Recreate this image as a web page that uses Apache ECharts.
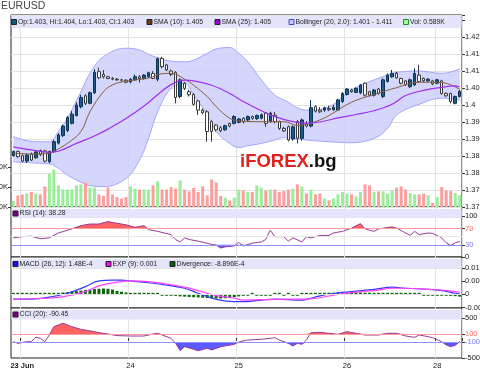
<!DOCTYPE html>
<html><head><meta charset="utf-8">
<script src="https://cdn.jsdelivr.net/npm/echarts@6/dist/echarts.min.js"></script>
<style>html,body{margin:0;padding:0;background:#fff}#c{width:480px;height:370px}</style>
</head><body><div id="c"></div>
<script>
// ---------------- DATA ----------------
const dayNames = ['22 Jun', '23 Jun', '24 Jun', '25 Jun', '26 Jun', '28 Jun'];
const dayFirstHour = [22, 0, 0, 0, 0, 0];
const dayHourCount = [2, 24, 24, 24, 20, 6];
const dayTickLabels = { '23 Jun': '23 Jun', '24 Jun': '24', '25 Jun': '25', '26 Jun': '26', '28 Jun': '28' };

const open = [1.3851,1.3863,1.3851,1.3835,1.3855,1.3845,1.3866,1.3865,1.3833,1.3863,
  1.3888,1.3910,1.3925,1.3946,1.3969,1.3995,1.4027,1.4005,1.4036,1.4098,
  1.4090,1.4083,1.4078,1.4076,1.4074,1.4073,1.4068,1.4074,1.4083,1.4078,
  1.4083,1.4093,1.4076,1.4137,1.4118,1.4100,1.4096,1.4025,1.4064,1.4039,
  1.4031,1.4012,1.3985,1.3980,1.3951,1.3941,1.3933,1.3927,1.3946,1.3946,
  1.3949,1.3961,1.3956,1.3966,1.3960,1.3961,1.3976,1.3951,1.3970,1.3951,
  1.3931,1.3936,1.3900,1.3951,1.3902,1.3946,1.3938,1.3995,1.3985,1.3985,
  1.3990,1.3986,1.3985,1.4010,1.4031,1.4044,1.4037,1.4036,1.4064,1.4039,
  1.4029,1.4047,1.4025,1.4069,1.4083,1.4093,1.4078,1.4071,1.4054,1.4059,
  1.4088,1.4078,1.4071,1.4071,1.4064,1.4071,1.4034,1.4034,1.4005,1.4025];
const high = [1.3866,1.3866,1.3855,1.3856,1.3860,1.3866,1.3869,1.3868,1.3866,1.3897,
  1.3917,1.3942,1.3968,1.3982,1.4008,1.4030,1.4032,1.4040,1.4105,1.4110,
  1.4103,1.4086,1.4082,1.4079,1.4077,1.4076,1.4079,1.4090,1.4088,1.4091,
  1.4098,1.4100,1.4140,1.4142,1.4120,1.4104,1.4100,1.4078,1.4068,1.4045,
  1.4035,1.4015,1.3990,1.3985,1.3955,1.3944,1.3938,1.3942,1.3948,1.3970,
  1.3962,1.3964,1.3969,1.3969,1.3972,1.3975,1.3979,1.3980,1.3980,1.3954,
  1.3936,1.3940,1.3940,1.3956,1.3960,1.3953,1.4015,1.3999,1.3994,1.3995,
  1.3998,1.4000,1.4018,1.4038,1.4050,1.4048,1.4052,1.4062,1.4066,1.4042,
  1.4047,1.4050,1.4078,1.4093,1.4103,1.4098,1.4080,1.4073,1.4078,1.4108,
  1.4118,1.4081,1.4079,1.4074,1.4077,1.4074,1.4037,1.4036,1.4028,1.4044];
const low = [1.3848,1.3845,1.3831,1.3830,1.3835,1.3842,1.3850,1.3831,1.3829,1.3860,
  1.3884,1.3906,1.3920,1.3943,1.3966,1.3990,1.4000,1.4002,1.4032,1.4076,
  1.4078,1.4076,1.4073,1.4071,1.4069,1.4064,1.4064,1.4071,1.4066,1.4075,
  1.4080,1.4076,1.4070,1.4108,1.4100,1.4085,1.4005,1.4020,1.4044,1.4025,
  1.3998,1.3971,1.3973,1.3892,1.3892,1.3922,1.3920,1.3924,1.3934,1.3943,
  1.3946,1.3946,1.3953,1.3957,1.3956,1.3958,1.3936,1.3948,1.3946,1.3927,
  1.3920,1.3893,1.3895,1.3887,1.3895,1.3934,1.3934,1.3978,1.3976,1.3980,
  1.3982,1.3983,1.3982,1.4006,1.4028,1.4036,1.4035,1.4032,1.4025,1.4025,
  1.4025,1.4030,1.4020,1.4066,1.4080,1.4077,1.4060,1.4056,1.4050,1.4056,
  1.4066,1.4068,1.4068,1.4058,1.4061,1.4030,1.4024,1.4005,1.4002,1.4022];
const close = [1.3863,1.3848,1.3835,1.3853,1.3838,1.3862,1.3855,1.3835,1.3863,1.3892,
  1.3912,1.3938,1.3963,1.3973,1.4000,1.4022,1.4005,1.4036,1.4096,1.4080,
  1.4083,1.4078,1.4076,1.4074,1.4073,1.4067,1.4076,1.4083,1.4078,1.4088,
  1.4095,1.4078,1.4136,1.4113,1.4103,1.4090,1.4022,1.4074,1.4049,1.4030,
  1.4002,1.3985,1.3977,1.3922,1.3922,1.3927,1.3924,1.3939,1.3938,1.3966,
  1.3959,1.3951,1.3966,1.3960,1.3969,1.3971,1.3946,1.3976,1.3951,1.3931,
  1.3924,1.3897,1.3936,1.3902,1.3956,1.3938,1.3992,1.3982,1.3980,1.3992,
  1.3986,1.3993,1.4015,1.4034,1.4047,1.4039,1.4049,1.4059,1.4029,1.4029,
  1.4044,1.4034,1.4074,1.4088,1.4093,1.4080,1.4064,1.4059,1.4074,1.4093,
  1.4069,1.4071,1.4076,1.4062,1.4074,1.4034,1.4027,1.4010,1.4025,1.4040];
// volume in thousands
const volume = [0.30,0.58,0.63,0.67,0.75,0.67,0.63,1.03,1.67,1.87,
  1.08,0.87,0.87,0.87,1.08,1.13,1.22,0.97,0.97,0.63,
  0.55,0.97,0.63,0.50,0.42,0.50,1.03,0.92,0.87,0.87,
  0.87,1.08,1.28,0.87,0.87,1.00,0.92,1.33,0.87,0.78,
  0.95,0.75,1.03,0.58,1.38,1.22,0.55,0.47,0.33,0.47,
  0.87,0.83,0.75,0.75,1.08,0.97,0.83,0.87,0.87,0.75,
  0.80,0.87,0.92,1.13,1.03,0.67,0.87,0.63,0.67,0.42,
  0.33,0.42,0.63,0.75,0.67,0.63,0.53,0.75,1.13,1.08,
  0.75,0.78,0.78,0.67,0.83,0.97,1.03,0.87,0.70,0.63,
  0.63,0.67,0.58,0.20,0.50,1.00,0.83,0.80,0.70,0.59];

// [candle index, value]
const sma10 = [[0,1.3858],[5,1.3856],[8,1.3858],[10,1.3871],[12,1.3887],[15,1.3922],[17,1.3980],[20,1.4039],[22,1.4059],[25,1.4070],[30,1.4079],[33,1.4092],[35,1.4093],[38,1.4076],[40,1.4058],[43,1.4025],[45,1.3995],[48,1.3961],[50,1.3953],[55,1.3951],[60,1.3951],[63,1.3940],[65,1.3943],[68,1.3956],[70,1.3969],[75,1.4008],[80,1.4031],[85,1.4051],[90,1.4067],[95,1.4066],[99,1.4046]];
const sma25 = [[0,1.3877],[4,1.3868],[8,1.3861],[10,1.3864],[14,1.3887],[18,1.3909],[21,1.3929],[25,1.3960],[29,1.3997],[32,1.4030],[35,1.4060],[38,1.4073],[40,1.4071],[44,1.4058],[48,1.4034],[51,1.4010],[55,1.3983],[58,1.3966],[62,1.3951],[65,1.3946],[68,1.3950],[72,1.3962],[76,1.3972],[80,1.3983],[84,1.4002],[87,1.4028],[91,1.4043],[95,1.4052],[98,1.4056],[99,1.4053]];
const bollUpper = [[0,1.3907],[5,1.3892],[8,1.3892],[10,1.3922],[12,1.3961],[15,1.4039],[17,1.4093],[20,1.4142],[25,1.4167],[28,1.4162],[30,1.4149],[32,1.4139],[35,1.4129],[38,1.4127],[40,1.4132],[43,1.4152],[45,1.4165],[48,1.4169],[50,1.4152],[52,1.4127],[55,1.4074],[58,1.4029],[60,1.4015],[65,1.3985],[70,1.3995],[75,1.4044],[80,1.4074],[83,1.4088],[85,1.4096],[90,1.4100],[95,1.4093],[99,1.4106]];
const bollLower = [[0,1.3833],[5,1.3829],[8,1.3827],[10,1.3814],[12,1.3794],[15,1.3773],[17,1.3763],[20,1.3760],[25,1.3784],[28,1.3838],[30,1.3902],[32,1.3980],[35,1.4049],[38,1.4064],[40,1.4029],[43,1.3971],[45,1.3922],[48,1.3887],[50,1.3875],[52,1.3880],[55,1.3887],[58,1.3897],[60,1.3904],[65,1.3897],[70,1.3892],[75,1.3889],[80,1.3902],[83,1.3931],[85,1.3971],[90,1.4002],[95,1.4020],[99,1.4014]];
const rsi14 = [[0,47],[2,50],[4,51],[6,45],[8,47],[10,59],[13,69],[15,77],[17,81],[19,81],[21,87],[23,83],[25,79],[27,73],[29,77],[30,67],[32,63],[35,55],[36,43],[37,37],[38,47],[39,43],[41,39],[44,31],[45,29],[46,22],[47,25],[49,27],[50,36],[51,27],[53,34],[55,37],[56,43],[57,66],[58,50],[60,50],[61,39],[62,47],[64,37],[65,50],[66,47],[68,53],[70,53],[71,59],[73,63],[74,67],[75,71],[77,82],[78,69],[80,63],[81,69],[84,74],[85,71],[87,59],[88,53],[89,63],[90,55],[92,59],[93,58],[95,47],[96,35],[97,28],[98,35],[99,38.28]];
const macdLine = [[0,-0.0018],[4,-0.0018],[8,-0.0011],[12,0.0004],[16,0.0029],[19,0.0051],[22,0.0054],[24,0.0054],[26,0.0051],[30,0.0044],[34,0.0035],[38,0.0023],[41,0.0004],[45,-0.0019],[49,-0.0028],[51,-0.0028],[55,-0.0022],[58,-0.0018],[64,-0.0022],[65,-0.0019],[68,-0.0006],[72,0.0006],[75,0.0010],[80,0.0019],[84,0.0027],[87,0.0023],[92,0.0019],[95,0.0014],[98,0.0004],[99,0.00015]];
const macdSignal = [[0,-0.0018],[8,-0.0015],[12,-0.0006],[16,0.0010],[19,0.0032],[23,0.0046],[26,0.0051],[30,0.0048],[34,0.0039],[38,0.0027],[41,0.0014],[45,-0.0005],[49,-0.0015],[51,-0.0022],[58,-0.0019],[65,-0.0018],[68,-0.0013],[72,0],[77,0.0010],[81,0.0016],[84,0.0023],[87,0.0023],[92,0.0019],[95,0.0016],[98,0.0010],[99,0.0009]];
const macdDivergence = [0.0002,0.0002,0.0002,0.0002,0.0002,0.0002,0.0002,0.0002,0.0003,0.0004,
  0.0005,0.0007,0.0008,0.0010,0.0012,0.0014,0.0016,0.0018,0.0020,0.0021,
  0.0022,0.0021,0.0018,0.0013,0.0010,0.0007,0.0004,0.0002,0,0,
  0.0002,0,0,-0.0002,-0.0002,-0.0003,-0.0006,-0.0008,-0.0009,-0.0010,
  -0.0011,-0.0012,-0.0013,-0.0014,-0.0015,-0.0016,-0.0016,-0.0015,-0.0013,-0.0011,
  -0.0008,-0.0006,-0.0005,0,-0.0002,-0.0002,-0.0002,-0.0002,0,0,
  -0.0002,0,-0.0002,-0.0002,0,0.0002,0.0003,0.0003,0.0004,0.0005,
  0.0006,0.0006,0.0007,0.0008,0.0008,0.0008,0.0007,0.0007,0.0006,0.0006,
  0.0005,0.0005,0.0004,0.0004,0.0003,0.0003,0.0002,0,0.0002,0,
  0,-0.0002,-0.0002,-0.0003,-0.0003,-0.0004,-0.0005,-0.0006,-0.0007,-0.0009];
const cci20 = [[0,-92],[1,-133],[3,-92],[4,-92],[5,20],[6,-8],[7,-92],[8,75],[9,283],[11,367],[13,283],[15,217],[18,158],[19,133],[21,100],[23,60],[26,50],[29,50],[31,100],[32,117],[33,75],[35,-8],[36,-133],[37,-317],[38,-217],[40,-283],[41,-317],[43,-258],[44,-300],[46,-217],[49,-158],[50,-100],[52,-50],[55,-33],[57,-8],[58,8],[59,-50],[61,-133],[62,-200],[63,-133],[64,-158],[65,-50],[66,133],[68,142],[70,117],[72,92],[74,158],[76,117],[78,75],[81,75],[83,117],[85,117],[87,50],[89,17],[90,75],[92,33],[93,8],[95,-92],[96,-175],[97,-217],[98,-180],[99,-90.45]];
const rsiLevels = [70, 30];
const cciLevels = [100, -100];
const chartTitle = 'EURUSD';
const legendTexts = {
  price: 'Op:1.403, Hi:1.404, Lo:1.403, Cl:1.403',
  sma10: 'SMA (10): 1.405',
  sma25: 'SMA (25): 1.405',
  boll: 'Bollinger (20, 2.0): 1.401 - 1.411',
  vol: 'Vol: 0.589K',
  rsi: 'RSI (14): 38.28',
  macd: 'MACD (26, 12): 1.48E-4',
  exp: 'EXP (9): 0.001',
  div: 'Divergence: -8.896E-4',
  cci: 'CCI (20): -90.45'
};

// ---------------- BUILD ----------------
const categories = [];
dayNames.forEach((d, k) => {
  for (let h = 0; h < dayHourCount[k]; h++) {
    const hh = dayFirstHour[k] + h;
    categories.push(d + ' ' + String(hh).padStart(2, '0') + ':00');
  }
});
const isDayStart = (idx, val) => typeof val === 'string' && val.endsWith(' 00:00');

const FONT = '"Liberation Sans",Arial,sans-serif';
const L = 11, R = 18;

const candleData = categories.map((c, i) => [open[i], close[i], low[i], high[i]]);
const volData = volume.map((v, i) => ({ value: v, itemStyle: { color: close[i] >= open[i] ? '#99ee99' : '#ff9d9d' } }));
const bollWidth = bollUpper.map((p, k) => [p[0], +(p[1] - bollLower[k][1]).toFixed(5)]);

function xAx(gi, showLabels) {
  return {
    type: 'category', gridIndex: gi, data: categories, boundaryGap: true,
    axisLine: { show: false },
    axisTick: { show: showLabels, interval: isDayStart, length: 3, lineStyle: { color: '#333' } },
    axisLabel: {
      show: showLabels, interval: isDayStart, fontSize: 7.5, fontFamily: FONT, color: '#222', margin: 4,
      formatter: (val) => {
        const d = val.slice(0, val.length - 6);
        return d === '23 Jun' ? '{b|23 Jun}' : (dayTickLabels[d] || '');
      },
      rich: { b: { fontWeight: 'bold', fontSize: 7.5, fontFamily: FONT, color: '#222' } }
    },
    splitLine: { show: true, interval: isDayStart, lineStyle: { color: '#e2e2e2', width: 1 } }
  };
}
function yAxCommon(extra) {
  return Object.assign({
    type: 'value', position: 'right', scale: false,
    axisLine: { show: false },
    axisTick: { show: true, length: 3, lineStyle: { color: '#333' } },
    splitLine: { show: false }
  }, extra);
}
const labelBase = { fontSize: 7.5, fontFamily: FONT, color: '#222', margin: 3, hideOverlap: false };

function legendItem(x, y, fill, stroke, text) {
  return [
    { type: 'rect', z: 100, shape: { x: x, y: y - 2.5, width: 5, height: 5 }, style: { fill: fill, stroke: stroke, lineWidth: 1 } },
    { type: 'text', z: 100, x: x + 6.5, y: y - 3.8, style: { text: text, font: '6.8px ' + FONT, fill: '#222' } }
  ];
}
const gridBox = { show: true, borderColor: '#222', borderWidth: 1, backgroundColor: '#fff', outerBoundsMode: 'none', containLabel: false };

const option = {
  animation: false,
  backgroundColor: '#ffffff',
  title: { text: chartTitle, left: 0, top: 0, padding: 1, textStyle: { fontSize: 10.5, fontWeight: 'normal', fontFamily: FONT, color: '#444' } },
  grid: [
    Object.assign({ left: L, right: R, top: 15, height: 192 }, gridBox),
    { left: L, right: R, top: 15, height: 192, show: false, outerBoundsMode: 'none', containLabel: false },
    Object.assign({ left: L, right: R, top: 207, height: 50 }, gridBox),
    Object.assign({ left: L, right: R, top: 257, height: 51 }, gridBox),
    Object.assign({ left: L, right: R, top: 308, height: 50 }, gridBox)
  ],
  xAxis: [xAx(0, false), Object.assign(xAx(1, false), { splitLine: { show: false } }), xAx(2, false), xAx(3, false), xAx(4, true)],
  yAxis: [
    yAxCommon({ gridIndex: 0, min: 1.37, max: 1.42647, interval: 0.005,
      splitLine: { show: true, lineStyle: { color: '#e2e2e2' } },
      axisLabel: Object.assign({}, labelBase, { formatter: v => v > 1.421 ? '' : String(Math.round(v * 1000) / 1000) }) }),
    yAxCommon({ gridIndex: 1, position: 'left', min: 0, max: 9.6,
      axisTick: { show: true, length: 3, customValues: [0, 1, 2], lineStyle: { color: '#333' } },
      axisLabel: Object.assign({}, labelBase, { customValues: [0, 1, 2], formatter: v => v.toFixed(1) + 'K' }) }),
    yAxCommon({ gridIndex: 2, min: 0, max: 122.85,
      axisTick: { show: true, length: 3, customValues: [0, 30, 70, 100], lineStyle: { color: '#333' } },
      axisLabel: Object.assign({}, labelBase, { customValues: [0, 30, 70, 100],
        formatter: v => v === 70 ? '{r|70}' : (v === 30 ? '{b|30}' : String(v)),
        rich: { r: { color: '#ff6f6f', fontSize: 7.5, fontFamily: FONT }, b: { color: '#7a7aff', fontSize: 7.5, fontFamily: FONT } } }) }),
    yAxCommon({ gridIndex: 3, min: -0.005209, max: 0.014183,
      axisTick: { show: true, length: 3, customValues: [-0.005, 0, 0.005, 0.01], lineStyle: { color: '#333' } },
      axisLabel: Object.assign({}, labelBase, { customValues: [-0.005, 0, 0.005, 0.01], formatter: v => String(Math.round(v * 1000) / 1000) }) }),
    yAxCommon({ gridIndex: 4, min: -500, max: 750,
      axisTick: { show: true, length: 3, customValues: [-500, -100, 100, 500], lineStyle: { color: '#333' } },
      axisLabel: Object.assign({}, labelBase, { customValues: [-500, -100, 100, 500],
        formatter: v => v === 100 ? '{r|100}' : (v === -100 ? '{b|-100}' : String(v)),
        rich: { r: { color: '#ff6f6f', fontSize: 7.5, fontFamily: FONT }, b: { color: '#7a7aff', fontSize: 7.5, fontFamily: FONT } } }) })
  ],
  series: [
    { name: 'BollLower', type: 'line', xAxisIndex: 0, yAxisIndex: 0, data: bollLower, stack: 'boll', smooth: 0.4,
      symbol: 'none', lineStyle: { color: '#a4a4ff', width: 1 }, z: 1 },
    { name: 'BollBand', type: 'line', xAxisIndex: 0, yAxisIndex: 0, data: bollWidth, stack: 'boll', smooth: 0.4,
      symbol: 'none', lineStyle: { color: '#a4a4ff', width: 1 }, areaStyle: { color: '#cdd0fa', opacity: 0.85 }, z: 1 },
    { name: 'Volume', type: 'bar', xAxisIndex: 1, yAxisIndex: 1, data: volData, barWidth: 3, z: 2 },
    { name: 'OHLC', type: 'candlestick', xAxisIndex: 0, yAxisIndex: 0, data: candleData, barWidth: 3, z: 4,
      itemStyle: { color: '#1c5c86', color0: '#ffffff', borderColor: '#0c3452', borderColor0: '#3a3a3a', borderWidth: 1 } },
    { name: 'SMA10', type: 'line', xAxisIndex: 0, yAxisIndex: 0, data: sma10, smooth: 0.4, symbol: 'none',
      lineStyle: { color: '#8a5a3e', width: 1 }, z: 5 },
    { name: 'SMA25', type: 'line', xAxisIndex: 0, yAxisIndex: 0, data: sma25, smooth: 0.4, symbol: 'none',
      lineStyle: { color: '#a030ee', width: 1.2 }, z: 5 },
    // RSI
    { name: 'RSIhigh', type: 'line', xAxisIndex: 2, yAxisIndex: 2, data: rsi14.map(p => [p[0], Math.max(p[1], rsiLevels[0])]),
      symbol: 'none', lineStyle: { width: 0 }, areaStyle: { origin: rsiLevels[0], color: '#ff6262', opacity: 1 }, z: 2 },
    { name: 'RSIlow', type: 'line', xAxisIndex: 2, yAxisIndex: 2, data: rsi14.map(p => [p[0], Math.min(p[1], rsiLevels[1])]),
      symbol: 'none', lineStyle: { width: 0 }, areaStyle: { origin: rsiLevels[1], color: '#5a5aff', opacity: 1 }, z: 2 },
    { name: 'RSI', type: 'line', xAxisIndex: 2, yAxisIndex: 2, data: rsi14, symbol: 'none',
      lineStyle: { color: '#9a3a9a', width: 1 }, z: 4,
      markLine: { silent: true, symbol: 'none', label: { show: false },
        data: [ { yAxis: 50, lineStyle: { color: '#e6e6e6', width: 1, type: 'solid' } },
                { yAxis: rsiLevels[0], lineStyle: { color: '#ff9a9a', width: 1.2, type: 'solid' } },
                { yAxis: rsiLevels[1], lineStyle: { color: '#8f8fff', width: 1.2, type: 'solid' } } ] } },
    // MACD
    { name: 'Divergence', type: 'bar', xAxisIndex: 3, yAxisIndex: 3, data: macdDivergence, barWidth: 3, barMinHeight: 1.5,
      itemStyle: { color: '#0a6a0a' }, z: 2,
      markLine: { silent: true, symbol: 'none', label: { show: false },
        data: [ { yAxis: 0, lineStyle: { color: '#e2e2e2', width: 1, type: 'solid' } },
                { yAxis: 0.005, lineStyle: { color: '#e2e2e2', width: 1, type: 'solid' } } ] } },
    { name: 'MACD', type: 'line', xAxisIndex: 3, yAxisIndex: 3, data: macdLine, smooth: 0.4, symbol: 'none',
      lineStyle: { color: '#3a3aff', width: 1.2 }, z: 4 },
    { name: 'EXP', type: 'line', xAxisIndex: 3, yAxisIndex: 3, data: macdSignal, smooth: 0.4, symbol: 'none',
      lineStyle: { color: '#ff40ff', width: 1.2 }, z: 4 },
    // CCI
    { name: 'CCIhigh', type: 'line', xAxisIndex: 4, yAxisIndex: 4, data: cci20.map(p => [p[0], Math.max(p[1], cciLevels[0])]),
      symbol: 'none', lineStyle: { width: 0 }, areaStyle: { origin: cciLevels[0], color: '#ff6262', opacity: 1 }, z: 2 },
    { name: 'CCIlow', type: 'line', xAxisIndex: 4, yAxisIndex: 4, data: cci20.map(p => [p[0], Math.min(p[1], cciLevels[1])]),
      symbol: 'none', lineStyle: { width: 0 }, areaStyle: { origin: cciLevels[1], color: '#5a5aff', opacity: 1 }, z: 2 },
    { name: 'CCI', type: 'line', xAxisIndex: 4, yAxisIndex: 4, data: cci20, symbol: 'none',
      lineStyle: { color: '#9a3a9a', width: 1 }, z: 4,
      markLine: { silent: true, symbol: 'none', label: { show: false },
        data: [ { yAxis: cciLevels[0], lineStyle: { color: '#ff9a9a', width: 1.2, type: 'solid' } },
                { yAxis: cciLevels[1], lineStyle: { color: '#8f8fff', width: 1.2, type: 'solid' } } ] } }
  ],
  graphic: [].concat(
    [
      { type: 'rect', z: 1, shape: { x: 11.5, y: 15.5, width: 450, height: 12.5 }, style: { fill: '#e4e4fa' } },
      { type: 'rect', z: 1, shape: { x: 11.5, y: 209, width: 450, height: 9 }, style: { fill: '#e4e4fa' } },
      { type: 'rect', z: 1, shape: { x: 11.5, y: 259, width: 450, height: 10 }, style: { fill: '#e4e4fa' } },
      { type: 'rect', z: 1, shape: { x: 11.5, y: 310, width: 450, height: 9.5 }, style: { fill: '#e4e4fa' } },
      { type: 'text', z: 50, x: 240, y: 152, style: { text: '{r|iFOREX}{k|.bg}',
        rich: { r: { fill: '#e2221c', font: 'bold 18.5px ' + FONT }, k: { fill: '#111', font: 'bold 18.5px ' + FONT } } } }
    ],
    legendItem(11.5, 22, '#0e5c7e', '#222', legendTexts.price),
    legendItem(147, 22, '#6a3a1e', '#222', legendTexts.sma10),
    legendItem(215, 22, '#9a00dd', '#222', legendTexts.sma25),
    legendItem(289, 22, '#c4c8ff', '#4a4acc', legendTexts.boll),
    legendItem(403.5, 22, '#99ff99', '#2a8a2a', legendTexts.vol),
    legendItem(13, 213.5, '#800080', '#222', legendTexts.rsi),
    legendItem(13, 264, '#1010ff', '#222', legendTexts.macd),
    legendItem(106, 264, '#ff00ff', '#222', legendTexts.exp),
    legendItem(170, 264, '#006600', '#222', legendTexts.div),
    legendItem(13, 314.5, '#800080', '#222', legendTexts.cci)
  )
};

const chart = echarts.init(document.getElementById('c'), null, { renderer: 'canvas' });
chart.setOption(option);
</script>
</body></html>
